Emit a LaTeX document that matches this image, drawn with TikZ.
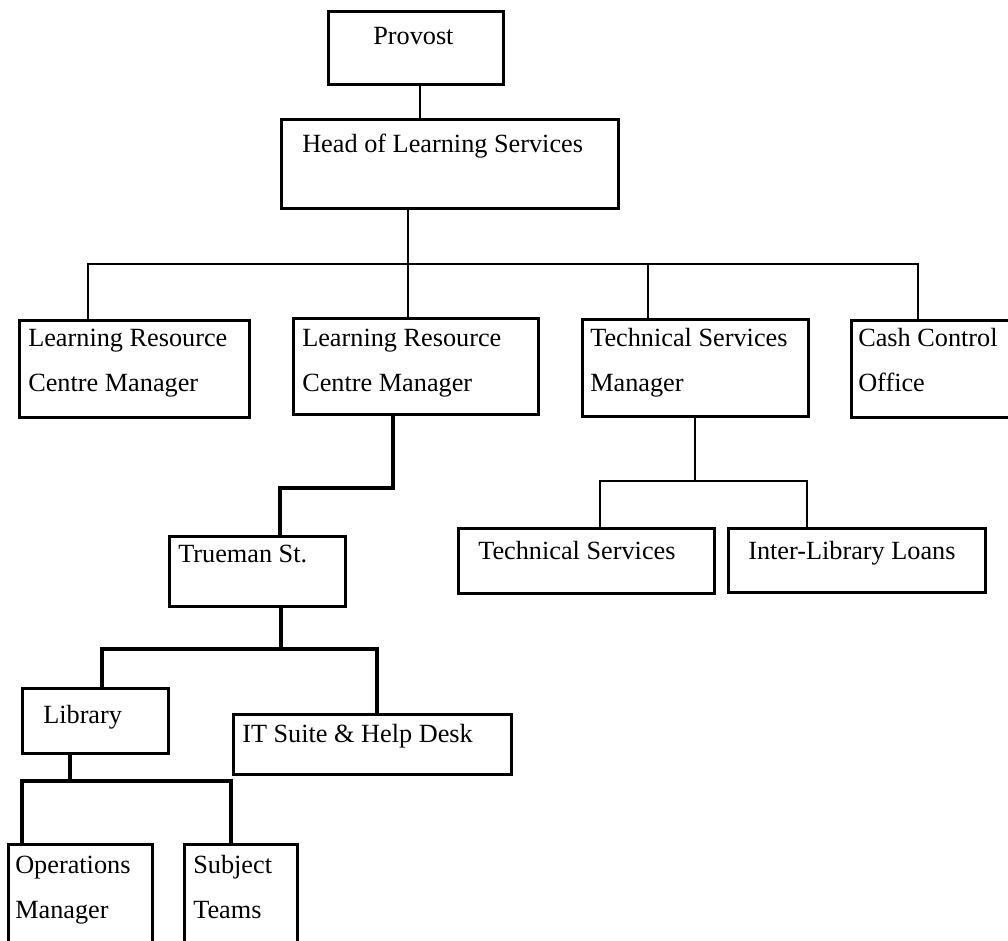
\documentclass[tikz,border=0pt]{standalone}
\usepackage{fontspec}
\setmainfont{Liberation Serif}
\begin{document}
\begin{tikzpicture}[x=0.75pt,y=-0.75pt,
  box/.style={draw=black,line width=2.6pt,rectangle,inner sep=0pt,anchor=north west},
  lbl/.style={anchor=base west,inner sep=0pt,align=left,
    font=\fontsize{19.7}{33.75}\selectfont},
  wire/.style={draw=black,line width=1.6pt},
  heavywire/.style={draw=black,line width=2.4pt}]
\newcommand{\orgbox}[5]{%
  \node[box,minimum width={(#4-#2)*0.75pt},minimum height={(#5-#3)*0.75pt}] (#1) at (#2,#3) {};}
\useasboundingbox (0,0) rectangle (1008,941);
\fill[white] (0,0) rectangle (1008,941);

% boxes
\orgbox{prov}{327}{10}{502}{83}
\orgbox{head}{280}{118}{617}{207}
\orgbox{lrcA}{18}{319}{248}{416}
\orgbox{lrcB}{292}{317}{537}{413}
\orgbox{tsm}{581}{318}{807}{415}
\orgbox{cash}{850}{319}{1014}{416}
\orgbox{tech}{457}{527}{713}{592}
\orgbox{ill}{727}{527}{984}{591}
\orgbox{true}{168}{535}{344}{605}
\orgbox{lib}{21}{687}{167}{752}
\orgbox{its}{232}{713}{510}{773}
\orgbox{ops}{7}{843}{151}{952}
\orgbox{subj}{183}{843}{296}{952}

% labels (base anchor sits on the last line of a two-line label)
\node[lbl] (provT) at (373,45) {Provost};
\node[lbl] (headT) at (302,153) {Head of Learning Services};
\node[lbl] (lrcAT) at (28,392) {Learning Resource\\Centre Manager};
\node[lbl] (lrcBT) at (302,392) {Learning Resource\\Centre Manager};
\node[lbl] (tsmT) at (590,392) {Technical Services\\Manager};
\node[lbl] (cashT) at (858,392) {Cash Control\\Office};
\node[lbl] (techT) at (478,560) {Technical Services};
\node[lbl] (illT) at (748,560) {Inter-Library Loans};
\node[lbl] (trueT) at (178,562) {Trueman St.};
\node[lbl] (libT) at (43,723) {Library};
\node[lbl] (itsT) at (242,742) {IT Suite \& Help Desk};
\node[lbl] (opsT) at (15,918) {Operations\\Manager};
\node[lbl] (subjT) at (193,918) {Subject\\Teams};

% junction points
\coordinate (pv) at (420,100);
\coordinate (busL) at (88,264);
\coordinate (busM) at (408,264);
\coordinate (busT) at (648,264);
\coordinate (busR) at (918,264);
\coordinate (trA) at (393,488);
\coordinate (trB) at (280,488);
\coordinate (tsA) at (695,481);
\coordinate (tsL) at (600,481);
\coordinate (tsR) at (807,481);
\coordinate (tmA) at (281,649);
\coordinate (tmL) at (102,649);
\coordinate (tmR) at (377,649);
\coordinate (lbA) at (70,781);
\coordinate (lbL) at (22,781);
\coordinate (lbR) at (231,781);

% connectors
\draw[wire] (prov.south -| pv) -- (head.north -| pv);
\draw[wire] (head.south -| busM) -- (lrcB.north -| busM);
\draw[wire] (lrcA.north -| busL) -- (busL) -- (busR) -- (cash.north -| busR);
\draw[wire] (busT) -- (tsm.north -| busT);
\draw[heavywire] (lrcB.south -| trA) -- (trA) -- (trB) -- (true.north -| trB);
\draw[wire] (tsm.south -| tsA) -- (tsA);
\draw[wire] (tech.north -| tsL) -- (tsL) -- (tsR) -- (ill.north -| tsR);
\draw[heavywire] (true.south -| tmA) -- (tmA);
\draw[heavywire] (lib.north -| tmL) -- (tmL) -- (tmR) -- (its.north -| tmR);
\draw[heavywire] (lib.south -| lbA) -- (lbA);
\draw[heavywire] (ops.north -| lbL) -- (lbL) -- (lbR) -- (subj.north -| lbR);
\end{tikzpicture}
\end{document}
